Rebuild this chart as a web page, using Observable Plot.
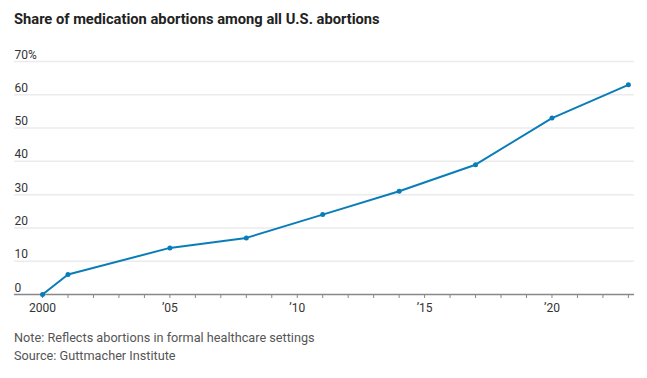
<!DOCTYPE html>
<html>
<head>
<meta charset="utf-8">
<script src="https://cdn.jsdelivr.net/npm/d3@7"></script>
<script src="https://cdn.jsdelivr.net/npm/@observablehq/plot@0.6"></script>
<style>
  html, body { margin: 0; padding: 0; background: #fff; }
  body { width: 647px; height: 378px; position: relative; overflow: hidden; font-family: Roboto, "Noto Sans", sans-serif; }
  #title { position: absolute; left: 14px; top: 10px; font-size: 14.7px; font-weight: 700; color: #222; white-space: nowrap; }
  #chart { position: absolute; left: 0; top: 40px; }
  #note { position: absolute; left: 14px; top: 329px; font-size: 12.7px; color: #555; line-height: 18px; }
</style>
</head>
<body>
<div id="title">Share of medication abortions among all U.S. abortions</div>
<div id="chart"></div>
<div id="note">Note: Reflects abortions in formal healthcare settings<br>Source: Guttmacher Institute</div>
<script>
const years = [2000, 2001, 2005, 2008, 2011, 2014, 2017, 2020, 2023];
const shares = [0, 6, 14, 17, 24, 31, 39, 53, 63];
const yTicks = [0, 10, 20, 30, 40, 50, 60, 70];
const yTickLabels = ["0", "10", "20", "30", "40", "50", "60", "70%"];
const xTickYears = [2000, 2005, 2010, 2015, 2020];
const xTickLabels = ["2000", "\u201905", "\u201910", "\u201915", "\u201920"];
const allYears = d3.range(2000, 2024);

const data = years.map((year, i) => ({year, share: shares[i]}));
const blue = "#0a7db8";

const chart = Plot.plot({
  width: 647,
  height: 280,
  marginLeft: 14,
  marginRight: 13,
  marginTop: 21,
  marginBottom: 26,
  style: {fontFamily: "Roboto, 'Noto Sans', sans-serif", background: "#fff"},
  x: {domain: [1998.9, 2023.24], label: null},
  y: {domain: [0, 70], axis: null, label: null},
  marks: [
    Plot.ruleY(yTicks.slice(1), {stroke: "#ebebeb", strokeWidth: 1.5}),
    Plot.text(yTicks, {
      y: d => d,
      frameAnchor: "left",
      text: (d, i) => yTickLabels[i],
      textAnchor: "start",
      lineAnchor: "bottom",
      dy: -3,
      fontSize: 12,
      fill: "#333"
    }),
    Plot.axisX({ticks: allYears, tickSize: 4, tickFormat: () => "", stroke: "#888", label: null}),
    Plot.axisX({
      ticks: xTickYears,
      tickSize: 0,
      tickPadding: 9,
      tickFormat: d => xTickLabels[xTickYears.indexOf(d)],
      fill: "#333",
      fontSize: 12,
      label: null
    }),
    Plot.ruleY([0], {stroke: "#888", strokeWidth: 1.5}),
    Plot.line(data, {x: "year", y: "share", stroke: blue, strokeWidth: 2}),
    Plot.dot(data, {x: "year", y: "share", fill: blue, r: 2.5})
  ]
});
document.getElementById("chart").append(chart);
</script>
</body>
</html>
